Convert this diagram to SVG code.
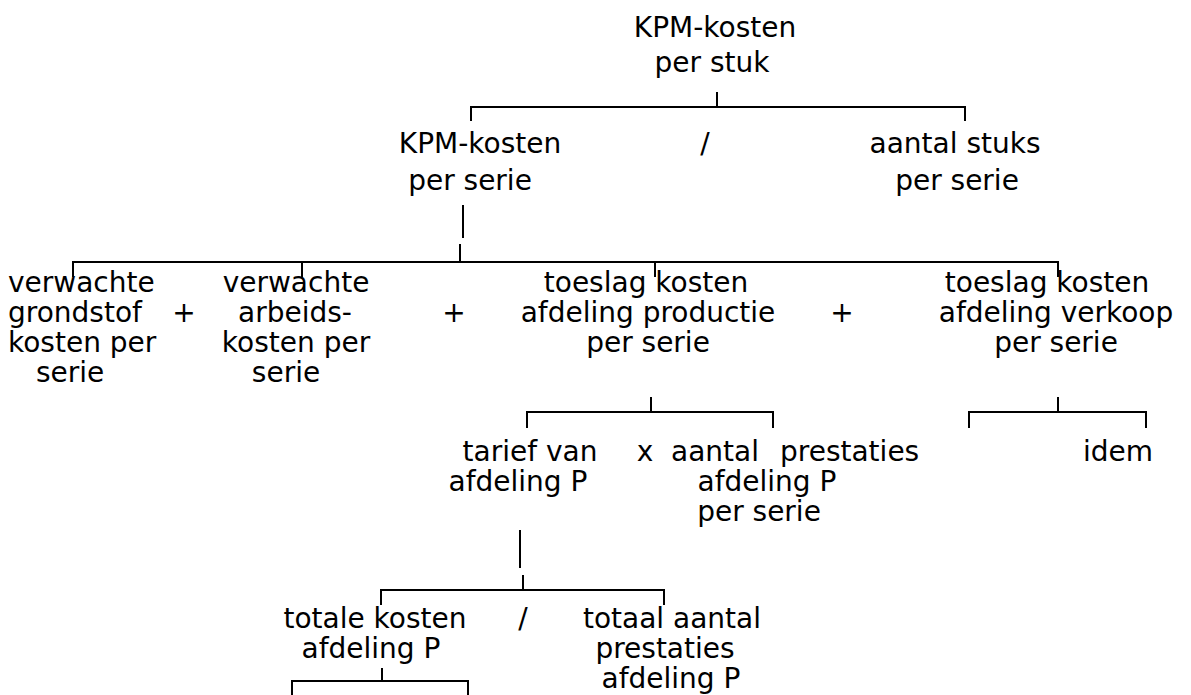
<svg xmlns="http://www.w3.org/2000/svg" width="1191" height="695" viewBox="0 0 1191 695">
<style>
text{font-family:"DejaVu Sans","Liberation Sans",sans-serif;font-size:28px;fill:#000;text-anchor:middle}
text.l{text-anchor:start}
.c path,.c line{stroke:#000;stroke-width:2;fill:none}
</style>
<rect width="1191" height="695" fill="#fff"/>
<g class="c" id="connectors">
<path d="M717,92V107M471,121V107H965V121"/>
<line x1="463" y1="205" x2="463" y2="238"/>
<path d="M460,244V262M73,277V262H1058V277M302,262V277M655,262V277"/>
<path d="M651,397V412M527,428V412H773V428"/>
<path d="M1058,397V412M969,428V412H1146V428"/>
<line x1="520" y1="530" x2="520" y2="568"/>
<path d="M523,575V590M381,605V590H664V605"/>
<path d="M382,668V681M292,696V681H468V696"/>
</g>
<g id="kpm-stuk"><text x="715" y="37">KPM-kosten</text><text x="712" y="72">per stuk</text></g>
<g id="kpm-serie"><text x="480" y="153">KPM-kosten</text><text x="470" y="190">per serie</text></g>
<g id="aantal-stuks"><text x="955" y="153">aantal stuks</text><text x="957" y="190">per serie</text></g>
<g id="grondstof"><text class="l" x="8" y="292">verwachte</text><text class="l" x="8" y="322">grondstof</text><text class="l" x="8" y="352">kosten per</text><text class="l" x="36" y="382">serie</text></g>
<g id="arbeid"><text x="296" y="292">verwachte</text><text x="295" y="322">arbeids-</text><text x="296" y="352">kosten per</text><text x="286" y="382">serie</text></g>
<g id="toeslag-productie"><text x="646" y="292">toeslag kosten</text><text x="648" y="322">afdeling productie</text><text x="648" y="352">per serie</text></g>
<g id="toeslag-verkoop"><text x="1047" y="292">toeslag kosten</text><text x="1056" y="322">afdeling verkoop</text><text x="1056" y="352">per serie</text></g>
<g id="tarief"><text x="530" y="461">tarief van</text><text x="518" y="491">afdeling P</text></g>
<g id="aantal-prestaties"><text class="l" x="671" y="461">aantal</text><text class="l" x="780" y="461">prestaties</text><text x="767" y="491">afdeling P</text><text x="759" y="521">per serie</text></g>
<g id="idem"><text x="1118" y="461">idem</text></g>
<g id="totale-kosten"><text x="375" y="628">totale kosten</text><text x="371" y="658">afdeling P</text></g>
<g id="totaal-prestaties"><text x="672" y="628">totaal aantal</text><text x="665" y="658">prestaties</text><text x="671" y="688">afdeling P</text></g>
<g id="operators">
<text x="705" y="153">/</text>
<text x="184" y="322">+</text>
<text x="454" y="322">+</text>
<text x="842" y="322">+</text>
<text x="645" y="461">x</text>
<text x="523" y="628">/</text>
</g>
</svg>
